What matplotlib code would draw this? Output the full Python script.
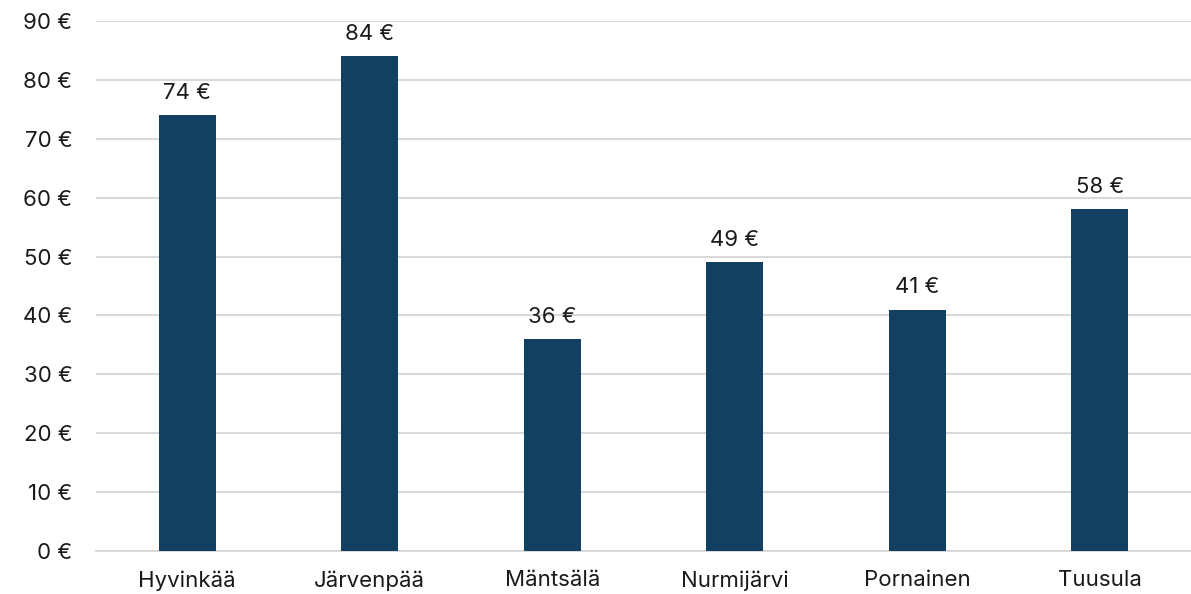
import matplotlib
matplotlib.use("Agg")
from matplotlib import pyplot as plt

plt.rcParams["font.family"] = ["Inter", "DejaVu Sans"]

categories = ["Hyvinkää", "Järvenpää", "Mäntsälä", "Nurmijärvi", "Pornainen", "Tuusula"]
values = [74, 84, 36, 49, 41, 58]
yticks = [0, 10, 20, 30, 40, 50, 60, 70, 80, 90]

BAR_COLOR = "#124060"
GRID_COLOR = "#d9d9d9"
FS = 16

fig = plt.figure(figsize=(11.91, 5.94), dpi=100)
ax = fig.add_axes([0.0806, 0.0724, 0.9194, 0.8922])

x = list(range(len(categories)))
bars = ax.bar(x, values, width=0.31, color=BAR_COLOR, zorder=3)

for b, v in zip(bars, values):
    ax.annotate(f"{v} €", (b.get_x() + b.get_width() / 2, v),
                xytext=(0, 9), textcoords="offset points",
                ha="center", va="bottom", fontsize=FS, color="#1a1a1a")

ax.set_xlim(-0.5, len(categories) - 0.5)
ax.set_ylim(0, 90)
ax.set_yticks(yticks)
ax.set_yticklabels([f"{t} €" for t in yticks])
ax.set_xticks(x)
ax.set_xticklabels(categories)
ax.tick_params(axis="both", length=0, labelsize=FS, colors="#1a1a1a")
ax.tick_params(axis="y", pad=17)
ax.tick_params(axis="x", pad=14)

ax.yaxis.grid(True, color=GRID_COLOR, linewidth=1.5, zorder=0)
for side in ["top", "right", "left"]:
    ax.spines[side].set_visible(False)
ax.spines["bottom"].set_color(GRID_COLOR)
ax.spines["bottom"].set_linewidth(1.5)

fig.savefig("out.png", dpi=100)
